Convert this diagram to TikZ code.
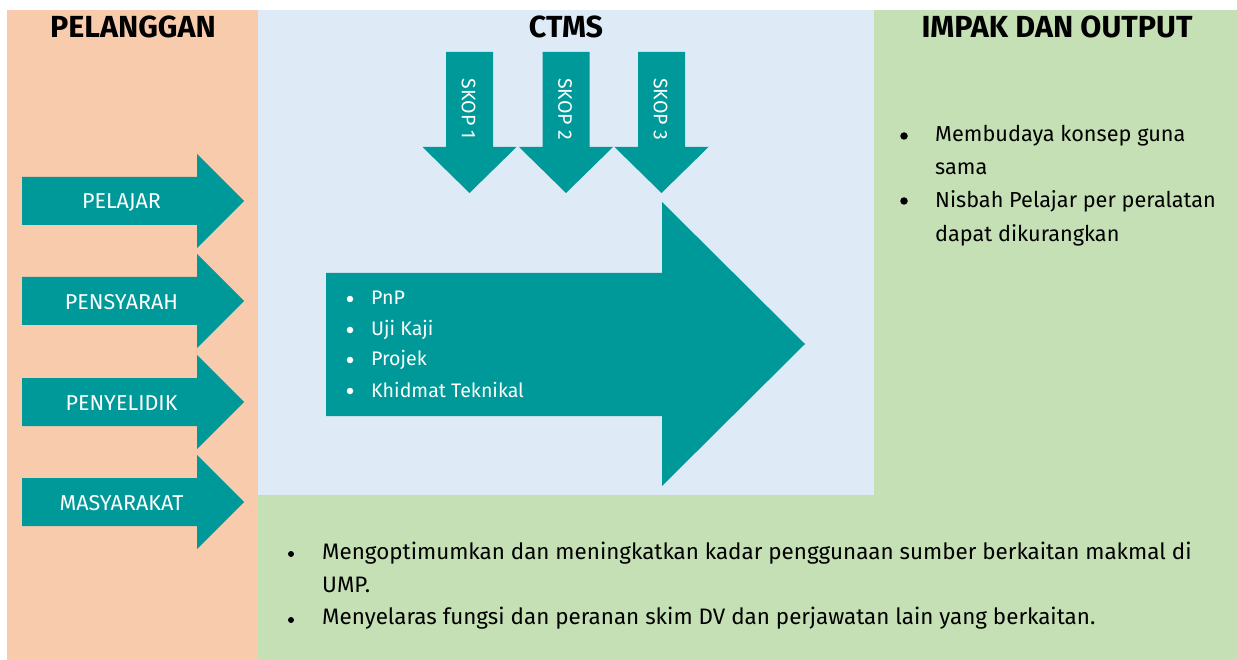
\documentclass[tikz,border=0pt]{standalone}
\usepackage{fontspec}
\setmainfont{Fira Sans}

\definecolor{peach}{HTML}{F8CBAD}
\definecolor{skyblue}{HTML}{DEEAF6}
\definecolor{leafgreen}{HTML}{C5E0B4}
\definecolor{tealflow}{HTML}{009999}

\begin{document}
\begin{tikzpicture}[
    x=1pt, y=-1pt,
    every node/.style={inner sep=0pt, font=\fontsize{20}{24}\selectfont},
    % 栏标题
    head/.style={anchor=base, font=\fontsize{30.5}{32}\selectfont\bfseries},
    % 箭头
    flow/.style={fill=tealflow},
    % 箭头内文字
    arrowtext/.style={anchor=base, text=white, font=\fontsize{21.5}{24}\selectfont},
    skoptext/.style={text=white, font=\fontsize{19.5}{22}\selectfont},
    % 列表行
    rtxt/.style={anchor=base west, font=\fontsize{21.7}{24}\selectfont},
    btxt/.style={anchor=base west, font=\fontsize{22.4}{24}\selectfont},
    wtxt/.style={anchor=base west, text=white, font=\fontsize{19.6}{22}\selectfont},
    % 项目符号
    dot/.style={circle, fill=black, minimum size=7.5pt},
    sdot/.style={circle, fill=black, minimum size=6pt},
    wdot/.style={circle, fill=white, minimum size=6.5pt},
]
\useasboundingbox (0,0) rectangle (1237,660);

%% ── 背景分栏 ─────────────────────────────────────────
\fill[peach]     (7,10)    rectangle (258,660);
\fill[skyblue]   (258,10)  rectangle (874,495);
\fill[leafgreen] (874,10)  rectangle (1237,660);
\fill[leafgreen] (258,495) rectangle (874,660);

%% ── 栏标题 ───────────────────────────────────────────
\node[head] (hpel)  at (133,38)  {PELANGGAN};
\node[head] (hctms) at (566,38)  {CTMS};
\node[head] (himp)  at (1057,38) {IMPAK DAN OUTPUT};

%% ── 左侧箭头（纵向均布） ─────────────────────────────
\foreach \n/\lbl/\cy in {pel/PELAJAR/201, pen/PENSYARAH/301, pny/PENYELIDIK/402, mas/MASYARAKAT/502}{
    \fill[flow] (22,\cy-24) -- (197,\cy-24) -- (197,\cy-47) -- (244,\cy)
        -- (197,\cy+47) -- (197,\cy+24) -- (22,\cy+24) -- cycle;
    \node[arrowtext] (\n) at (121.5,\cy+8) {\lbl};
}

%% ── SKOP 向下箭头 ─────────────────────────────────────
\foreach \n/\cx in {1/469.5, 2/566, 3/661.5}{
    \fill[flow] (\cx-23.5,52) -- (\cx+23.5,52) -- (\cx+23.5,147) -- (\cx+47,147)
        -- (\cx,193) -- (\cx-47,147) -- (\cx-23.5,147) -- cycle;
    \node[skoptext, rotate=-90] (skop\n) at (\cx-1,109) {SKOP \n};
}

%% ── 中央大箭头 ───────────────────────────────────────
\fill[flow] (326,273) -- (662,273) -- (662,202) -- (805,344)
    -- (662,486) -- (662,416) -- (326,416) -- cycle;

\foreach \n/\lbl/\by in {pnp/PnP/305, uji/Uji Kaji/336, pro/Projek/366, khi/Khidmat Teknikal/397}{
    \node[wdot] (b\n) at (350,\by-6) {};
    \node[wtxt] (\n) at (371,\by) {\lbl};
}

%% ── 右栏：影响与输出 ─────────────────────────────────
\node[dot]  (bimp1) at (904,136) {};
\node[rtxt] (imp1a) at (935,142) {Membudaya konsep guna};
\node[rtxt] (imp1b) at (935,175) {sama};
\node[dot]  (bimp2) at (904,201) {};
\node[rtxt] (imp2a) at (935,208) {Nisbah Pelajar per peralatan};
\node[rtxt] (imp2b) at (935,242) {dapat dikurangkan};

%% ── 底栏 ─────────────────────────────────────────────
\node[sdot] (bout1) at (291,554) {};
\node[btxt] (out1a) at (322,559) {Mengoptimumkan dan meningkatkan kadar penggunaan sumber berkaitan makmal di};
\node[btxt] (out1b) at (322,592) {UMP.};
\node[sdot] (bout2) at (291,620) {};
\node[btxt] (out2)  at (322,624) {Menyelaras fungsi dan peranan skim DV dan perjawatan lain yang berkaitan.};

\end{tikzpicture}
\end{document}
